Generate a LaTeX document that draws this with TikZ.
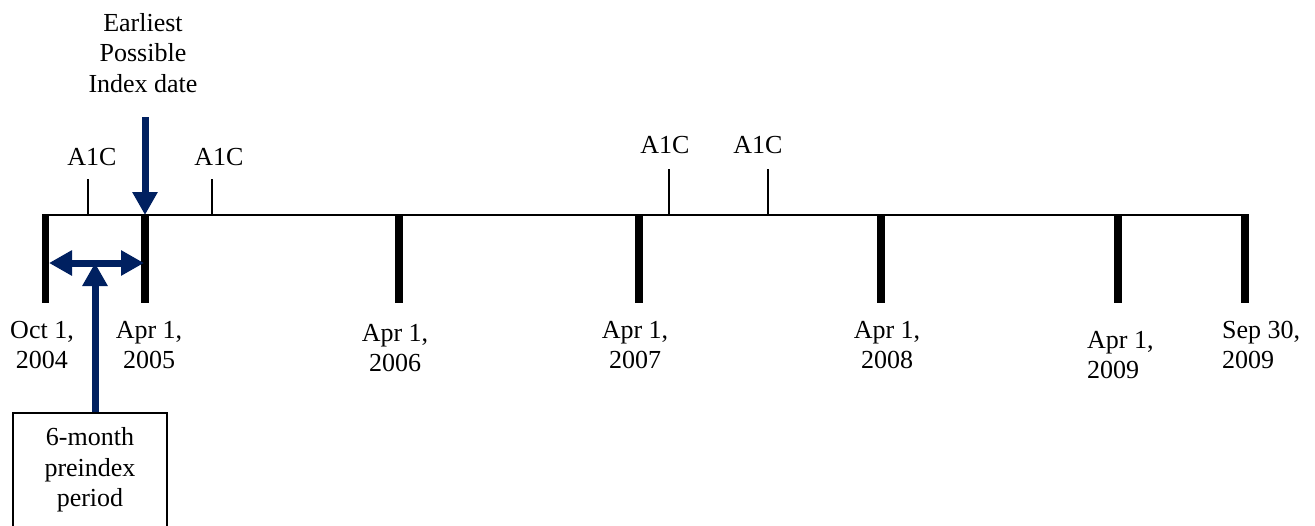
\documentclass[tikz,border=0pt]{standalone}
\usepackage{fontspec}
\setmainfont{Liberation Serif}
\usetikzlibrary{arrows.meta}
\definecolor{navy}{RGB}{0,32,96}
\begin{document}
\begin{tikzpicture}[x=1pt,y=-1pt,
  txt/.style={font=\fontsize{26}{30.5}\selectfont, inner sep=0pt, align=center},
  ltxt/.style={font=\fontsize{26}{30.5}\selectfont, inner sep=0pt, align=left},
  major/.style={line width=7.5pt},
  minor/.style={line width=1.5pt},
  navyarrow/.style={navy, line width=7pt, -{Triangle[width=24pt,length=23pt]}},
  navydouble/.style={navy, line width=7pt, {Triangle[width=24pt,length=23pt]}-{Triangle[width=24pt,length=23pt]}}]
\useasboundingbox (0,0) rectangle (1315,525);
\clip (0,0) rectangle (1315,525);
% timeline
\coordinate (L) at (42,215);
\coordinate (R) at (1248,215);
\draw[line width=2pt] (L) -- (R);
% major ticks
\foreach \n/\x in {t0/45.5,t1/145,t2/399,t3/639,t4/881,t5/1118,t6/1245}{
  \coordinate (\n) at (\x,214);
  \coordinate (\n b) at (\x,303);
  \draw[major] (\n) -- (\n b);
}
% minor A1C ticks
\foreach \n/\x/\y in {a0/88/179,a1/212/179,a2/669/169,a3/768/169}{
  \coordinate (\n top) at (\x,\y);
  \coordinate (\n) at (\x,215);
  \draw[minor] (\n top) -- (\n);
}
\node[txt] (la0) at (92,157) {A1C};
\node[txt] (la1) at (219,157) {A1C};
\node[txt] (la2) at (665,145) {A1C};
\node[txt] (la3) at (758,145) {A1C};
% date labels
\node[txt] (d0) at (42,345) {Oct 1,\\2004};
\node[txt] (d1) at (149,345) {Apr 1,\\2005};
\node[txt] (d2) at (395,348) {Apr 1,\\2006};
\node[txt] (d3) at (635,345) {Apr 1,\\2007};
\node[txt] (d4) at (887,345) {Apr 1,\\2008};
\node[ltxt, anchor=west] (d5) at (1087,355) {Apr 1,\\2009};
\node[ltxt, anchor=west] (d6) at (1222,345) {Sep 30,\\2009};
% earliest possible index date
\node[txt] (epi) at (143,53) {Earliest\\Possible\\Index date};
\coordinate (epistart) at (145,117);
\coordinate (epiend) at (145,215);
\draw[navyarrow] (epistart) -- (epiend);
% preindex period
\coordinate (hl) at (49,263);
\coordinate (hr) at (144,263);
\coordinate (hm) at (95,263);
\draw[navydouble] (hl) -- (hr);
\node[draw, line width=1.5pt, minimum width=154pt, minimum height=130pt, anchor=north, inner sep=0pt] (box) at (90,412) {};
\node[txt] (boxtxt) at (90,470) {6-month\\preindex\\period};
\draw[navyarrow] (box.north -| hm) -- (hm);
\end{tikzpicture}
\end{document}
